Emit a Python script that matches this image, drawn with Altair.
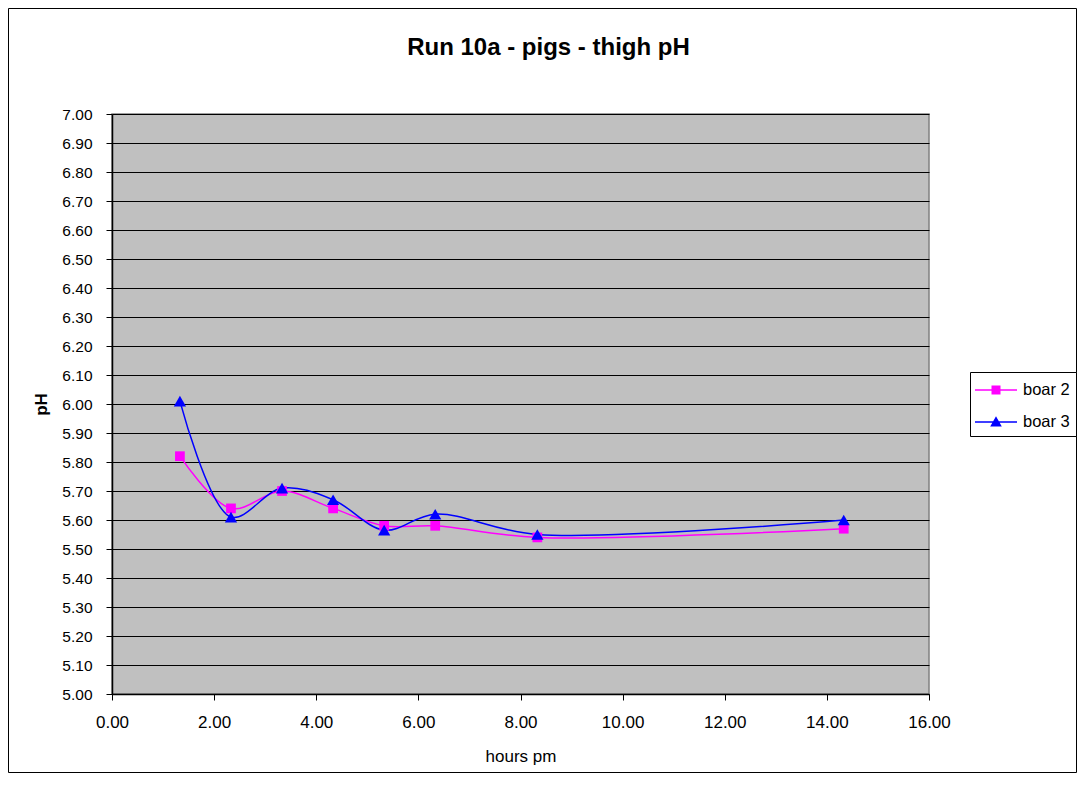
import altair as alt
import pandas as pd

hours = [1.33, 2.33, 3.33, 4.33, 5.33, 6.33, 8.33, 14.33]
boar2 = [5.82, 5.64, 5.70, 5.64, 5.58, 5.58, 5.54, 5.57]
boar3 = [6.01, 5.61, 5.71, 5.67, 5.565, 5.62, 5.55, 5.60]
series = ["boar 2", "boar 3"]
colors = ["#FF00FF", "#0000FF"]

df = pd.DataFrame(
    [{"hours": h, "pH": v, "series": "boar 2"} for h, v in zip(hours, boar2)]
    + [{"hours": h, "pH": v, "series": "boar 3"} for h, v in zip(hours, boar3)]
)

W, H = 817, 580
PL, PT, PR, PB = 104, 106, 148, 79
FONT = "Liberation Sans"

xs = alt.X("hours:Q", scale=alt.Scale(domain=[0, 16], nice=False),
           axis=alt.Axis(values=list(range(0, 17, 2)), format=".2f", grid=False,
                         title="hours pm", titleFontWeight="normal", titlePadding=18,
                         labelPadding=14, labelFontSize=17, titleFontSize=17))
ys = alt.Y("pH:Q", scale=alt.Scale(domain=[5.0, 7.0], nice=False, zero=False),
           axis=alt.Axis(values=[round(5 + 0.1 * i, 2) for i in range(21)], format=".2f",
                         grid=True, title="pH", titleFontWeight="bold", titlePadding=11,
                         labelPadding=14, labelFontSize=15.5, titleFontSize=17))
col = alt.Color("series:N", scale=alt.Scale(domain=series, range=colors), legend=None)

base = alt.Chart(df)

lines = base.mark_line(interpolate="catmull-rom", strokeWidth=1.5).encode(
    x=xs, y=ys, color=col, detail="series:N")

pts = base.mark_point(filled=True, opacity=1).encode(
    x=xs, y=ys, color=col,
    size=alt.Size("series:N", scale=alt.Scale(domain=series, range=[95, 150]), legend=None),
    shape=alt.Shape("series:N", scale=alt.Scale(domain=series, range=["square", "triangle-up"]),
                    legend=None))

# legend symbols: a short line with the marker on it (unit = 10 px for size 400)
sq_path = ("M-2.1,-0.075L2.1,-0.075L2.1,0.075L-2.1,0.075Z"
           "M-0.45,-0.45L0.45,-0.45L0.45,0.45L-0.45,0.45Z")
tri_path = ("M-2.1,-0.075L2.1,-0.075L2.1,0.075L-2.1,0.075Z"
            "M0,-0.58L0.58,0.45L-0.58,0.45Z")
LEG_SIZE = 400

leg = base.mark_point(filled=True, opacity=1, size=LEG_SIZE, clip=True).encode(
    x=alt.value(-500), y=alt.value(-500),
    color=alt.Color("series:N", scale=alt.Scale(domain=series, range=colors),
                    legend=alt.Legend(title=None, symbolSize=LEG_SIZE)),
    shape=alt.Shape("series:N", scale=alt.Scale(domain=series, range=[sq_path, tri_path]),
                    legend=alt.Legend(title=None, symbolSize=LEG_SIZE)))

frame = alt.Chart(pd.DataFrame({"a": [0]})).mark_rect(fill=None, stroke="black", strokeWidth=1).encode(
    x=alt.value(-PL + 0.5), x2=alt.value(W + PR - 0.5),
    y=alt.value(-PT + 0.5), y2=alt.value(H + PB - 0.5))

legend_box = alt.Chart(pd.DataFrame({"a": [0]})).mark_rect(fill="white", stroke="black", strokeWidth=1).encode(
    x=alt.value(858.5), x2=alt.value(W + PR - 0.5),
    y=alt.value(258.5), y2=alt.value(322.5))

chart = alt.layer(frame, legend_box, lines, pts, leg).resolve_scale(
    color="independent", shape="independent", size="independent"
).properties(
    width=W, height=H,
    autosize=alt.AutoSizeParams(type="none"),
    padding={"left": PL, "top": PT, "right": PR, "bottom": PB},
    title=alt.Title("Run 10a - pigs - thigh pH", font=FONT, fontSize=24, fontWeight="bold",
                    anchor="middle", offset=-52, dx=28, color="black"),
).configure_view(
    fill="#C0C0C0", stroke="#808080", strokeWidth=1.5
).configure_axis(
    labelFont=FONT, labelColor="black", labelFlush=False,
    titleFont=FONT, titleColor="black",
    domainColor="black", domainWidth=1.5, tickColor="black", tickSize=6, tickWidth=1,
    gridColor="black", gridWidth=1, gridOpacity=1,
).configure_legend(
    orient="none", legendX=874, legendY=266,
    strokeColor="transparent", padding=0,
    labelFont=FONT, labelFontSize=16.5, labelColor="black", labelOffset=17,
    symbolStrokeWidth=0, symbolSize=LEG_SIZE, rowPadding=13, cornerRadius=0,
)

chart.save("out.html", embed_options={"renderer": "svg", "actions": False})
